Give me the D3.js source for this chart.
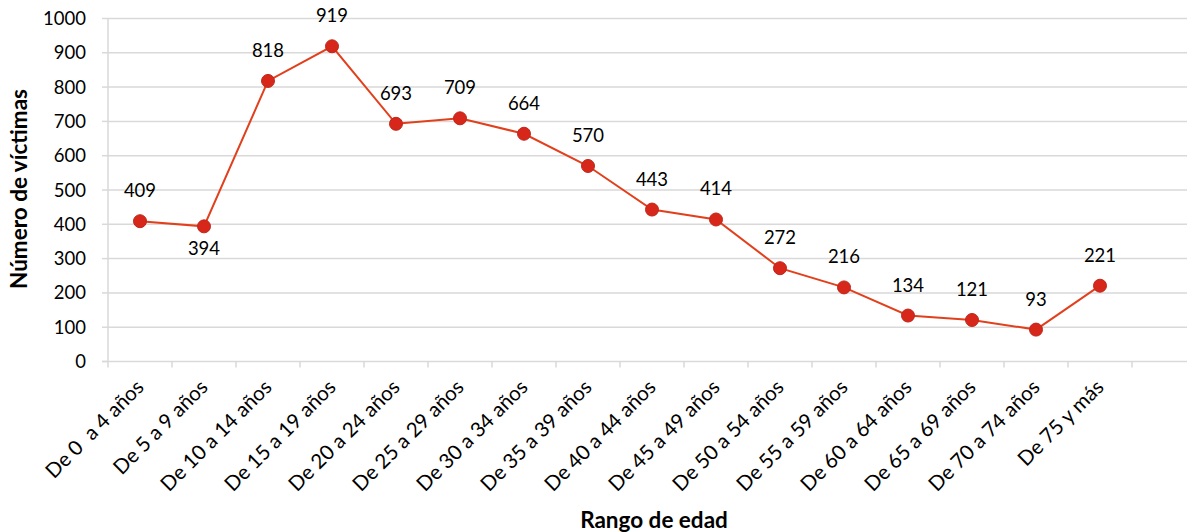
<!DOCTYPE html>
<html lang="es">
<head>
<meta charset="utf-8">
<title>Víctimas por rango de edad</title>
<script src="https://cdn.jsdelivr.net/npm/d3@7/dist/d3.min.js"></script>
<style>
    body { margin: 0; background: #fff; }
    text { font-family: Lato, "Open Sans", sans-serif; fill: #000; white-space: pre; }
</style>
</head>
<body>
<script>
    // data
    var categories = ["De 0  a 4 años", "De 5 a 9 años", "De 10 a 14 años", "De 15 a 19 años",
        "De 20 a 24 años", "De 25 a 29 años", "De 30 a 34 años", "De 35 a 39 años",
        "De 40 a 44 años", "De 45 a 49 años", "De 50 a 54 años", "De 55 a 59 años",
        "De 60 a 64 años", "De 65 a 69 años", "De 70 a 74 años", "De 75 y más"];
    var victimas = [409, 394, 818, 919, 693, 709, 664, 570, 443, 414, 272, 216, 134, 121, 93, 221];
    var yTicks = [0, 100, 200, 300, 400, 500, 600, 700, 800, 900, 1000];
    // labels drawn below the point instead of above
    var labelBelow = [false, true, false, false, false, false, false, false,
        false, false, false, false, false, false, false, false];

    var w = 1187, h = 532;
    var mLeft = 108, mTop = 18.5, mBottom = 361.5;

    var svg = d3.select("body").append("svg")
        .attr("width", w).attr("height", h);

    var x = d3.scaleBand().domain(categories).range([mLeft, mLeft + 64 * categories.length]);
    var y = d3.scaleLinear().domain([0, 1000]).range([mBottom, mTop]);
    var cx = (d, i) => x(categories[i]) + x.bandwidth() / 2;

    // gridlines
    svg.append("g").selectAll("line")
        .data(yTicks.filter(d => d > 0))
        .enter().append("line")
        .attr("x1", mLeft).attr("x2", w)
        .attr("y1", d => y(d)).attr("y2", d => y(d))
        .style("stroke", "#d9d9d9").style("stroke-width", 1.5);

    // y axis line + ticks
    svg.append("line")
        .attr("x1", mLeft).attr("x2", mLeft).attr("y1", mTop).attr("y2", mBottom)
        .style("stroke", "#d9d9d9").style("stroke-width", 1.5);
    svg.append("g").selectAll("line")
        .data(yTicks).enter().append("line")
        .attr("x1", mLeft - 6).attr("x2", mLeft)
        .attr("y1", d => y(d)).attr("y2", d => y(d))
        .style("stroke", "#d9d9d9").style("stroke-width", 1.5);
    svg.append("g").selectAll("text")
        .data(yTicks).enter().append("text")
        .attr("x", mLeft - 22).attr("y", d => y(d) + 6.5)
        .attr("text-anchor", "end")
        .style("font-size", "18.5px")
        .text(d => d);

    // x axis line + ticks at band edges
    svg.append("line")
        .attr("x1", mLeft - 6).attr("x2", w).attr("y1", mBottom).attr("y2", mBottom)
        .style("stroke", "#d9d9d9").style("stroke-width", 1.5);
    var edges = categories.map(c => x(c)).concat([x(categories[categories.length - 1]) + x.bandwidth()]);
    svg.append("g").selectAll("line")
        .data(edges).enter().append("line")
        .attr("x1", d => d).attr("x2", d => d)
        .attr("y1", mBottom).attr("y2", mBottom + 6)
        .style("stroke", "#d9d9d9").style("stroke-width", 1.5);

    // x labels rotated
    svg.append("g").selectAll("text")
        .data(categories).enter().append("text")
        .attr("transform", (d, i) => "translate(" + (cx(d, i) + 5) + "," + (mBottom + 27) + ") rotate(-45)")
        .attr("text-anchor", "end")
        .style("font-size", "20.5px")
        .text(d => d);

    // line
    var line = d3.line().x(cx).y(d => y(d));
    svg.append("path")
        .datum(victimas)
        .attr("d", line)
        .style("fill", "none")
        .style("stroke", "#e2401c")
        .style("stroke-width", 2);

    // markers
    svg.append("g").selectAll("circle")
        .data(victimas).enter().append("circle")
        .attr("cx", cx)
        .attr("cy", d => y(d))
        .attr("r", 6.5)
        .style("fill", "#d7261a")
        .style("stroke", "#c0281c")
        .style("stroke-width", 1);

    // data labels
    svg.append("g").selectAll("text")
        .data(victimas).enter().append("text")
        .attr("x", cx)
        .attr("y", (d, i) => labelBelow[i] ? y(d) + 29 : y(d) - 24)
        .attr("text-anchor", "middle")
        .style("font-size", "18.5px")
        .text(d => d);

    // axis titles
    svg.append("text")
        .attr("transform", "translate(27,189) rotate(-90)")
        .attr("text-anchor", "middle")
        .style("font-size", "22.5px").style("font-weight", "bold")
        .text("Número de víctimas");
    svg.append("text")
        .attr("x", 654).attr("y", 528)
        .attr("text-anchor", "middle")
        .style("font-size", "22.5px").style("font-weight", "bold")
        .text("Rango de edad");
</script>
</body>
</html>
